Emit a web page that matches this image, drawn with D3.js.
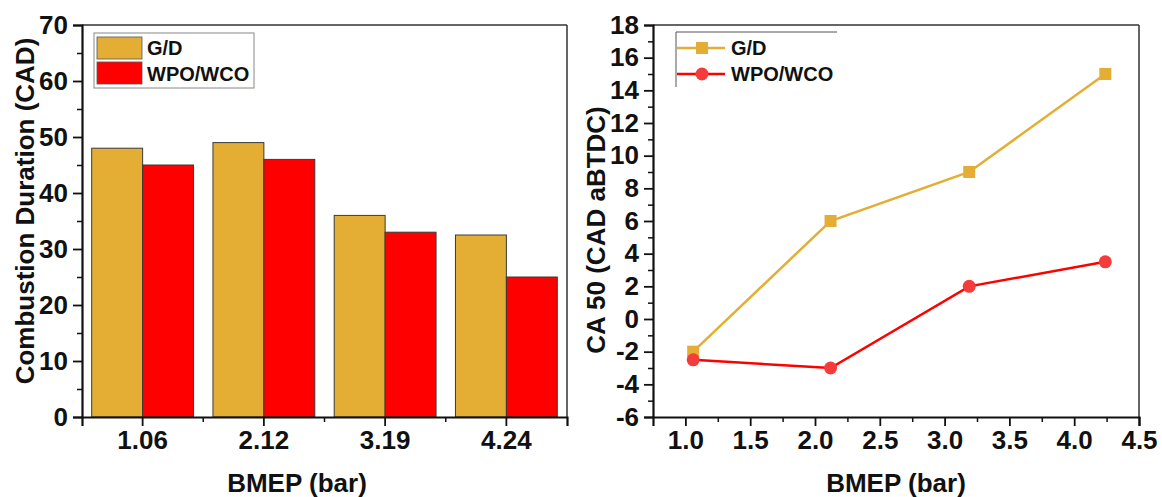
<!DOCTYPE html>
<html>
<head>
<meta charset="utf-8">
<script src="https://cdn.jsdelivr.net/npm/d3@7"></script>
<style>
  body { margin: 0; background: #fff; }
  svg text { font-family: "Liberation Sans", Arial, sans-serif; font-weight: bold; fill: #111; }
  svg .tick text { font-size: 26px; }
</style>
</head>
<body>
<div id="chart"></div>
<script>
// data
const bmep = ["1.06", "2.12", "3.19", "4.24"];
const bmepNum = [1.06, 2.12, 3.19, 4.24];
const seriesNames = ["G/D", "WPO/WCO"];
const durationGD = [48, 49, 36, 32.5];
const durationWPO = [45, 46, 33, 25];
const ca50GD = [-2, 6, 9, 15];
const ca50WPO = [-2.5, -3, 2, 3.5];

const colors = { "G/D": "#e4ae35", "WPO/WCO": "#ff0000" };
const markerFill = { "G/D": "#e4ae35", "WPO/WCO": "#f43c3c" };

const W = 1162, H = 497;
const svg = d3.select("#chart").append("svg")
    .attr("width", W).attr("height", H);

const plotTop = 25, plotBottom = 417;
const tickFont = 26, titleFont = "26px", legendFont = "20px";

// top / right frame lines
function drawFrame(g, x0, x1) {
    g.append("line").attr("x1", x0).attr("x2", x1).attr("y1", plotTop).attr("y2", plotTop)
        .attr("stroke", "#333").attr("stroke-width", 1.5);
    g.append("line").attr("x1", x1).attr("x2", x1).attr("y1", plotTop).attr("y2", plotBottom)
        .attr("stroke", "#333").attr("stroke-width", 1.5);
}

function styleAxes(list) {
    list.forEach(a => {
        a.attr("font-size", tickFont);
        a.selectAll(".domain").attr("stroke", "#111").attr("stroke-width", 2.2);
        a.selectAll(".tick line").attr("stroke", "#111").attr("stroke-width", 1.8);
        a.selectAll("text").attr("font-size", tickFont).style("font-size", tickFont + "px");
    });
}

// ---------- left: bar chart ----------
{
    const x0 = 82, x1 = 567;
    const g = svg.append("g");
    const x = d3.scaleBand().domain(bmep).range([x0, x1]).paddingInner(0.16).paddingOuter(0.08);
    const xs = d3.scaleBand().domain(seriesNames).range([0, x.bandwidth()]);
    const y = d3.scaleLinear().domain([0, 70]).range([plotBottom, plotTop]);

    const rows = bmep.map((b, i) => ({ b, vals: [
        { s: "G/D", v: durationGD[i] }, { s: "WPO/WCO", v: durationWPO[i] } ] }));

    g.selectAll("g.grp").data(rows).enter().append("g")
        .attr("transform", d => `translate(${x(d.b)},0)`)
        .selectAll("rect").data(d => d.vals).enter().append("rect")
        .attr("x", d => xs(d.s))
        .attr("y", d => y(d.v))
        .attr("width", xs.bandwidth())
        .attr("height", d => plotBottom - y(d.v))
        .attr("fill", d => colors[d.s])
        .attr("stroke", "#3a3a3a").attr("stroke-width", 1);

    drawFrame(g, x0, x1);

    // y axis
    const ya = g.append("g").attr("transform", `translate(${x0},0)`)
        .call(d3.axisLeft(y).tickValues(d3.range(0, 71, 10)).tickSize(9).tickPadding(5));
    g.append("g").attr("class", "minor").attr("transform", `translate(${x0},0)`)
        .call(d3.axisLeft(y).tickValues(d3.range(5, 70, 10)).tickSize(5).tickFormat(""))
        .select(".domain").remove();

    // x axis
    const xa = g.append("g").attr("transform", `translate(0,${plotBottom})`)
        .call(d3.axisBottom(x).tickSize(9).tickPadding(5));
    const bounds = bmep.slice(1).map(b => x(b) - x.step() * x.paddingInner() / 2);
    g.selectAll("line.xminor").data(bounds).enter().append("line")
        .attr("x1", d => d).attr("x2", d => d)
        .attr("y1", plotBottom).attr("y2", plotBottom + 5)
        .attr("stroke", "#111").attr("stroke-width", 1.5);

    styleAxes([ya, xa]);
    g.selectAll(".minor .tick line").attr("stroke", "#111").attr("stroke-width", 1.5);

    g.append("text").attr("transform", "translate(34,211) rotate(-90)")
        .attr("text-anchor", "middle").style("font-size", titleFont)
        .text("Combustion Duration (CAD)");
    g.append("text").attr("x", 297).attr("y", 492)
        .attr("text-anchor", "middle").style("font-size", titleFont)
        .text("BMEP (bar)");

    // legend
    const lg = g.append("g");
    lg.append("rect").attr("x", 94).attr("y", 33).attr("width", 160).attr("height", 55)
        .attr("fill", "#fff").attr("stroke", "#888").attr("stroke-width", 1);
    seriesNames.forEach((s, i) => {
        lg.append("rect").attr("x", 97).attr("y", 37 + i * 25).attr("width", 45).attr("height", 22)
            .attr("fill", colors[s]).attr("stroke", "#555").attr("stroke-width", 0.8);
        lg.append("text").attr("x", 147).attr("y", 55 + i * 26)
            .style("font-size", legendFont).text(s);
    });
}

// ---------- right: line chart ----------
{
    const x0 = 653, x1 = 1139;
    const g = svg.append("g");
    const x = d3.scaleLinear().domain([0.75, 4.5]).range([x0, x1]);
    const y = d3.scaleLinear().domain([-6, 18]).range([plotBottom, plotTop]);

    drawFrame(g, x0, x1);

    const ya = g.append("g").attr("transform", `translate(${x0},0)`)
        .call(d3.axisLeft(y).tickValues(d3.range(-6, 19, 2)).tickFormat(d => String(d))
            .tickSize(9).tickPadding(5));
    g.append("g").attr("class", "minor").attr("transform", `translate(${x0},0)`)
        .call(d3.axisLeft(y).tickValues(d3.range(-5, 18, 2)).tickSize(5).tickFormat(""))
        .select(".domain").remove();
    const xa = g.append("g").attr("transform", `translate(0,${plotBottom})`)
        .call(d3.axisBottom(x).tickValues(d3.range(1, 4.51, 0.5)).tickFormat(d => d.toFixed(1))
            .tickSize(9).tickPadding(5));
    g.append("g").attr("class", "minor").attr("transform", `translate(0,${plotBottom})`)
        .call(d3.axisBottom(x).tickValues(d3.range(1.25, 4.5, 0.5)).tickSize(5).tickFormat(""))
        .select(".domain").remove();

    styleAxes([ya, xa]);
    g.selectAll(".minor .tick line").attr("stroke", "#111").attr("stroke-width", 1.5);

    const line = d3.line().x(d => x(d.x)).y(d => y(d.y));
    const series = [
        { s: "G/D", pts: bmepNum.map((v, i) => ({ x: v, y: ca50GD[i] })) },
        { s: "WPO/WCO", pts: bmepNum.map((v, i) => ({ x: v, y: ca50WPO[i] })) }
    ];
    series.forEach(sr => {
        g.append("path").datum(sr.pts).attr("d", line)
            .attr("fill", "none").attr("stroke", colors[sr.s]).attr("stroke-width", 2.5);
    });
    // markers
    g.selectAll("rect.sq").data(series[0].pts).enter().append("rect")
        .attr("x", d => x(d.x) - 6).attr("y", d => y(d.y) - 6)
        .attr("width", 12).attr("height", 12).attr("fill", markerFill["G/D"]);
    g.selectAll("circle.ci").data(series[1].pts).enter().append("circle")
        .attr("cx", d => x(d.x)).attr("cy", d => y(d.y)).attr("r", 6.5)
        .attr("fill", markerFill["WPO/WCO"]);

    g.append("text").attr("transform", "translate(605,230) rotate(-90)")
        .attr("text-anchor", "middle").style("font-size", titleFont)
        .text("CA 50 (CAD aBTDC)");
    g.append("text").attr("x", 896).attr("y", 492)
        .attr("text-anchor", "middle").style("font-size", titleFont)
        .text("BMEP (bar)");

    // legend (only top and left border are visible in the figure)
    const lg = g.append("g");
    lg.append("path").attr("d", "M676,87V32H837")
        .attr("fill", "none").attr("stroke", "#555").attr("stroke-width", 1);
    seriesNames.forEach((s, i) => {
        const ly = 48 + i * 26;
        lg.append("line").attr("x1", 677).attr("x2", 725).attr("y1", ly).attr("y2", ly)
            .attr("stroke", colors[s]).attr("stroke-width", 2.5);
        if (i === 0) {
            lg.append("rect").attr("x", 696).attr("y", ly - 6).attr("width", 12).attr("height", 12)
                .attr("fill", markerFill[s]);
        } else {
            lg.append("circle").attr("cx", 702).attr("cy", ly).attr("r", 6.5).attr("fill", markerFill[s]);
        }
        lg.append("text").attr("x", 731).attr("y", ly + 7).style("font-size", legendFont).text(s);
    });
}
</script>
</body>
</html>
